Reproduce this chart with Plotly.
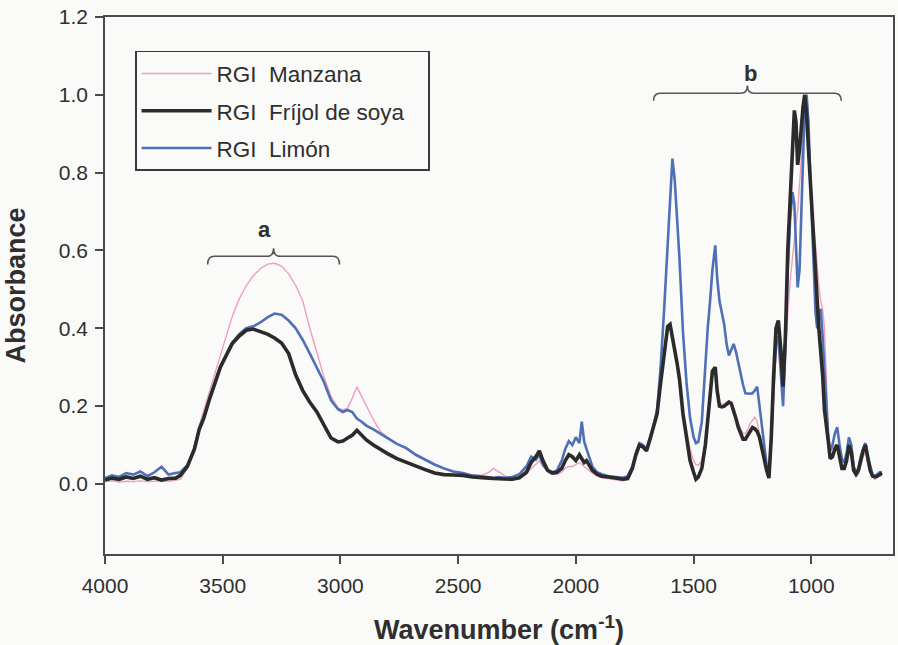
import plotly.graph_objects as go

# ---------------- data ----------------
wavenumber = [
    4000, 3970, 3940, 3910, 3880, 3850, 3820, 3790, 3760, 3730, 3700, 3680,
    3650, 3620, 3600, 3580, 3555, 3530, 3510, 3485, 3460, 3430, 3400, 3370,
    3340, 3310, 3280, 3250, 3220, 3190, 3160, 3130, 3100, 3070, 3040, 3010,
    2990, 2970, 2950, 2930, 2910, 2890, 2860, 2830, 2800, 2760, 2720, 2680,
    2640, 2600, 2560, 2520, 2480, 2440, 2400, 2370, 2350, 2330, 2300, 2270,
    2240, 2210, 2190, 2170, 2155, 2140, 2120, 2100, 2080, 2060, 2045, 2030,
    2015, 2000, 1985, 1975, 1965, 1955, 1945, 1930, 1910, 1890, 1860, 1830,
    1800, 1780, 1760, 1745, 1730, 1715, 1700, 1685, 1670, 1655, 1640, 1625,
    1610, 1600, 1590, 1580, 1570, 1560, 1545, 1530, 1515, 1500, 1490, 1480,
    1465, 1450, 1440, 1430, 1420, 1408, 1400, 1390, 1380, 1370, 1360, 1350,
    1340, 1330, 1320, 1310, 1300, 1290, 1280, 1270, 1260, 1250, 1240, 1230,
    1220, 1210, 1200, 1190, 1180, 1170, 1160, 1150, 1140, 1130, 1120, 1110,
    1100, 1090, 1080, 1072, 1065, 1058, 1050, 1042, 1035, 1028, 1020, 1012,
    1005, 998, 990, 982, 975, 968, 960, 952, 944, 936, 928, 920,
    910, 900, 890, 880, 870, 860, 850, 840, 830, 820, 810, 800,
    790, 780, 770, 760, 750, 740, 730, 720, 710, 700,
]

manzana = [
    0.006, 0.008, 0.005, 0.007, 0.006, 0.008, 0.006, 0.007, 0.008, 0.007, 0.009, 0.012,
    0.040, 0.090, 0.150, 0.190, 0.240, 0.285, 0.325, 0.380, 0.430, 0.475, 0.510, 0.535,
    0.553, 0.565, 0.567, 0.560, 0.540, 0.510, 0.470, 0.400, 0.340, 0.275, 0.225, 0.195,
    0.190, 0.195, 0.220, 0.250, 0.225, 0.200, 0.165, 0.135, 0.120, 0.103, 0.090, 0.074,
    0.060, 0.048, 0.038, 0.030, 0.026, 0.022, 0.022, 0.030, 0.040, 0.032, 0.020, 0.014,
    0.015, 0.025, 0.040, 0.050, 0.060, 0.045, 0.030, 0.025, 0.025, 0.030, 0.040, 0.045,
    0.045, 0.050, 0.055, 0.050, 0.045, 0.040, 0.035, 0.028, 0.020, 0.016, 0.013, 0.010,
    0.008, 0.012, 0.040, 0.075, 0.100, 0.095, 0.085, 0.110, 0.140, 0.175, 0.255, 0.335,
    0.400, 0.405, 0.375, 0.335, 0.305, 0.265, 0.190, 0.140, 0.090, 0.060, 0.050, 0.048,
    0.060, 0.110, 0.175, 0.240, 0.285, 0.295, 0.250, 0.210, 0.205, 0.205, 0.210, 0.215,
    0.210, 0.195, 0.175, 0.155, 0.140, 0.130, 0.130, 0.140, 0.155, 0.165, 0.172, 0.160,
    0.130, 0.095, 0.060, 0.036, 0.018, 0.100, 0.220, 0.330, 0.370, 0.320, 0.270, 0.350,
    0.450, 0.520, 0.580, 0.640, 0.670, 0.700, 0.760, 0.840, 0.920, 0.980, 1.000, 0.940,
    0.800, 0.720, 0.670, 0.610, 0.560, 0.510, 0.470, 0.450, 0.400, 0.250, 0.140, 0.090,
    0.090, 0.100, 0.100, 0.070, 0.050, 0.040, 0.060, 0.090, 0.070, 0.030, 0.020, 0.025,
    0.050, 0.070, 0.080, 0.050, 0.030, 0.018, 0.012, 0.015, 0.020, 0.020,
]

frijol_soya = [
    0.010, 0.015, 0.012, 0.018, 0.014, 0.020, 0.012, 0.016, 0.010, 0.014, 0.015, 0.022,
    0.045, 0.090, 0.140, 0.170, 0.220, 0.265, 0.300, 0.330, 0.360, 0.380, 0.395, 0.398,
    0.392, 0.385, 0.375, 0.362, 0.335, 0.280, 0.240, 0.210, 0.185, 0.150, 0.118, 0.108,
    0.110, 0.118, 0.125, 0.138, 0.125, 0.113, 0.100, 0.088, 0.078, 0.065, 0.055, 0.047,
    0.037, 0.028, 0.024, 0.023, 0.022, 0.018, 0.015, 0.015, 0.014, 0.013, 0.012, 0.012,
    0.016, 0.030, 0.055, 0.070, 0.085, 0.060, 0.035, 0.028, 0.030, 0.040, 0.060, 0.075,
    0.070, 0.060, 0.075, 0.065, 0.055, 0.060, 0.048, 0.035, 0.025, 0.020, 0.018, 0.015,
    0.012, 0.014, 0.040, 0.075, 0.100, 0.095, 0.085, 0.115, 0.145, 0.180, 0.260, 0.340,
    0.405, 0.410, 0.380, 0.340, 0.310, 0.270, 0.180, 0.120, 0.060, 0.030, 0.012, 0.018,
    0.040, 0.100, 0.170, 0.240, 0.290, 0.300, 0.240, 0.200, 0.198, 0.200, 0.205, 0.210,
    0.207, 0.190, 0.168, 0.145, 0.128, 0.115, 0.115, 0.125, 0.135, 0.145, 0.142, 0.135,
    0.120, 0.090, 0.060, 0.036, 0.015, 0.120, 0.280, 0.400, 0.420, 0.350, 0.250, 0.380,
    0.600, 0.720, 0.860, 0.960, 0.930, 0.820, 0.860, 0.930, 0.970, 1.000, 0.950, 0.860,
    0.780, 0.700, 0.620, 0.540, 0.460, 0.400, 0.340, 0.280, 0.190, 0.140, 0.110, 0.065,
    0.070, 0.090, 0.100, 0.070, 0.040, 0.040, 0.060, 0.100, 0.080, 0.035, 0.025, 0.035,
    0.060, 0.085, 0.100, 0.060, 0.035, 0.020, 0.018, 0.020, 0.025, 0.028,
]

limon = [
    0.015, 0.022, 0.018, 0.028, 0.024, 0.032, 0.020, 0.030, 0.044, 0.024, 0.028, 0.030,
    0.048, 0.092, 0.142, 0.172, 0.222, 0.268, 0.302, 0.333, 0.363, 0.385, 0.400, 0.405,
    0.415, 0.428, 0.438, 0.435, 0.420, 0.400, 0.370, 0.335, 0.300, 0.262, 0.215, 0.192,
    0.185, 0.190, 0.185, 0.168, 0.160, 0.150, 0.140, 0.128, 0.118, 0.103, 0.092, 0.075,
    0.062, 0.050, 0.040, 0.032, 0.028, 0.022, 0.020, 0.018, 0.016, 0.018, 0.016, 0.018,
    0.025, 0.045, 0.070, 0.062, 0.075, 0.050, 0.035, 0.030, 0.035, 0.060, 0.090, 0.110,
    0.100, 0.120, 0.105, 0.160, 0.110, 0.090, 0.070, 0.045, 0.030, 0.025, 0.020, 0.018,
    0.016, 0.020, 0.045, 0.080, 0.105, 0.100, 0.090, 0.120, 0.150, 0.190, 0.300, 0.450,
    0.620, 0.740, 0.836, 0.780, 0.680, 0.580, 0.390, 0.260, 0.170, 0.120, 0.105, 0.108,
    0.160, 0.310, 0.400, 0.470, 0.550, 0.613, 0.530, 0.470, 0.440, 0.410, 0.360, 0.330,
    0.345, 0.360, 0.340, 0.310, 0.285, 0.255, 0.233, 0.232, 0.232, 0.233, 0.240, 0.250,
    0.200, 0.150, 0.090, 0.050, 0.018, 0.120, 0.260, 0.360, 0.380, 0.300, 0.200, 0.350,
    0.550, 0.680, 0.750, 0.720, 0.620, 0.505, 0.550, 0.720, 0.880, 0.970, 1.000, 0.930,
    0.800, 0.690, 0.550, 0.440, 0.400, 0.420, 0.450, 0.380, 0.300, 0.200, 0.120, 0.085,
    0.100, 0.130, 0.146, 0.100, 0.065, 0.055, 0.080, 0.120, 0.100, 0.045, 0.030, 0.040,
    0.070, 0.090, 0.105, 0.070, 0.044, 0.025, 0.020, 0.025, 0.030, 0.030,
]

series_names = ["RGI\u00a0 Manzana", "RGI\u00a0 Fríjol de soya\u00a0\u00a0\u00a0", "RGI\u00a0 Limón"]
x_ticks = [4000, 3500, 3000, 2500, 2000, 1500, 1000]
y_ticks = [0.0, 0.2, 0.4, 0.6, 0.8, 1.0, 1.2]

assert len(wavenumber) == len(manzana) == len(frijol_soya) == len(limon)

# ---------------- figure ----------------
FONT = "Liberation Sans, Arial, Helvetica, sans-serif"
AXIS_COLOR = "#4a4a4a"
TEXT_COLOR = "#2f2f2f"

fig = go.Figure()
fig.add_trace(go.Scatter(x=wavenumber, y=manzana, mode="lines", name=series_names[0],
                         line=dict(color="#ee9fbe", width=1.4), legendrank=1,
                         legendgroup="m"))
fig.add_trace(go.Scatter(x=wavenumber, y=limon, mode="lines", name=series_names[2],
                         line=dict(color="#4f6fb7", width=2.6), legendrank=3,
                         legendgroup="l"))
fig.add_trace(go.Scatter(x=wavenumber, y=frijol_soya, mode="lines", name=series_names[1],
                         line=dict(color="#2b2b2b", width=3.6), legendrank=2,
                         legendgroup="f"))


def brace(x_left, x_right, y_tip, y_bar, y_peak, dx):
    xm = (x_left + x_right) / 2
    return (f"M {x_left},{y_tip} Q {x_left},{y_bar} {x_left - dx},{y_bar} "
            f"L {xm + dx},{y_bar} Q {xm},{y_bar} {xm},{y_peak} "
            f"Q {xm},{y_bar} {xm - dx},{y_bar} L {x_right + dx},{y_bar} "
            f"Q {x_right},{y_bar} {x_right},{y_tip}")


brace_style = dict(type="path", xref="x", yref="y", line=dict(color="#555555", width=1.6))
fig.add_shape(path=brace(3564, 3004, 0.564, 0.585, 0.606, 28), **brace_style)
fig.add_shape(path=brace(1670, 873, 0.985, 1.004, 1.024, 28), **brace_style)

fig.add_annotation(x=3322, y=0.655, xref="x", yref="y", text="<b>a</b>", showarrow=False,
                   font=dict(family=FONT, size=22, color=TEXT_COLOR))
fig.add_annotation(x=1260, y=1.055, xref="x", yref="y", text="<b>b</b>", showarrow=False,
                   font=dict(family=FONT, size=22, color=TEXT_COLOR))

fig.update_layout(
    width=898, height=645,
    margin=dict(l=105, r=3, t=17, b=91),
    paper_bgcolor="#fafaf8", plot_bgcolor="#fafaf8",
    font=dict(family=FONT, color=TEXT_COLOR),
    showlegend=True,
    legend=dict(x=0.038, y=0.937, xanchor="left", yanchor="top",
                bordercolor="#3a3a3a", borderwidth=1.6, bgcolor="rgba(0,0,0,0)",
                font=dict(family=FONT, size=22.5, color=TEXT_COLOR),
                traceorder="grouped", tracegroupgap=5, itemwidth=70),
    xaxis=dict(range=[4000, 653], tickvals=x_ticks, ticks="outside", ticklen=8,
               tickwidth=1.5, tickcolor=AXIS_COLOR, showline=True, linecolor=AXIS_COLOR,
               linewidth=1.6, mirror=True, showgrid=False, zeroline=False,
               ticklabelstandoff=4,
               tickfont=dict(family=FONT, size=21, color=TEXT_COLOR),
               title=dict(text="<b>Wavenumber (cm<sup>-1</sup>)</b>", standoff=25,
                          font=dict(family=FONT, size=27, color=TEXT_COLOR))),
    yaxis=dict(range=[-0.18, 1.2], tickvals=y_ticks, tickformat=".1f", ticks="outside",
               ticklen=8, tickwidth=1.5, tickcolor=AXIS_COLOR, showline=True,
               linecolor=AXIS_COLOR, linewidth=1.6, mirror=True, showgrid=False,
               zeroline=False, ticklabelstandoff=3,
               tickfont=dict(family=FONT, size=21, color=TEXT_COLOR),
               title=dict(text="<b>Absorbance</b>", standoff=25,
                          font=dict(family=FONT, size=27, color=TEXT_COLOR))),
)

fig.write_html("out.html")
